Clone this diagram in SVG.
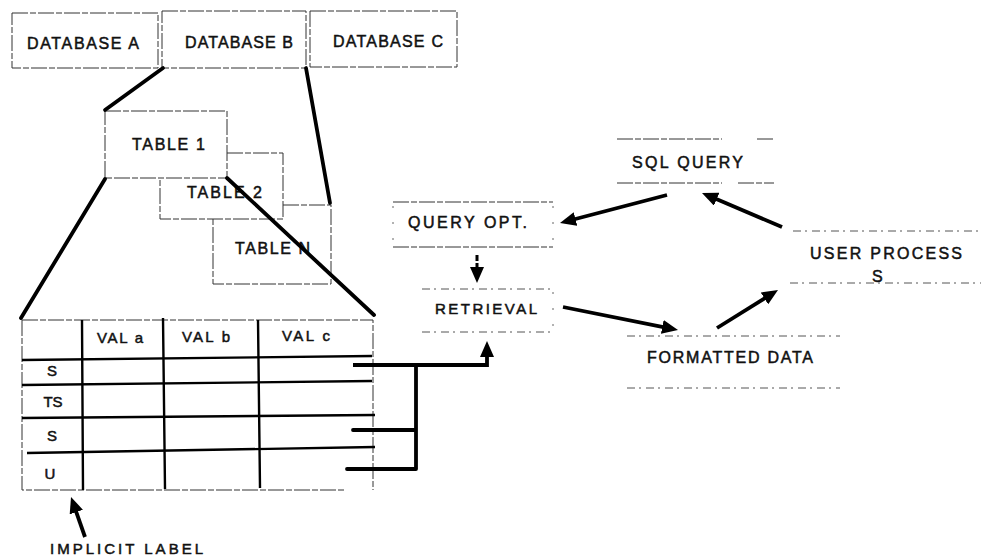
<svg xmlns="http://www.w3.org/2000/svg" width="981" height="557" viewBox="0 0 981 557">
<style>
text{font-family:"Liberation Sans",Arial,sans-serif;font-size:16px;fill:#111;stroke:#111;stroke-width:0.5}
.s15{font-size:15px}
.box{fill:none;stroke:#333;stroke-width:1;stroke-dasharray:16 2 6 2}
.faint{fill:none;stroke:#555;stroke-width:1;stroke-dasharray:8 4 2 5}
.side{fill:none;stroke:#666;stroke-width:1;stroke-dasharray:2 14}
.thick{fill:none;stroke:#000;stroke-width:3.8;stroke-linecap:round;stroke-linejoin:round}
.grid{fill:none;stroke:#000;stroke-width:2.4}
.arrow{fill:none;stroke:#000;stroke-width:3.8;marker-end:url(#ah)}
</style>
<defs>
<marker id="ah" markerUnits="userSpaceOnUse" viewBox="0 0 16 14" markerWidth="16" markerHeight="14" refX="10" refY="7" orient="auto">
<path d="M0,0 L16,7 L0,14 z" fill="#000"/>
</marker>
</defs>
<rect width="981" height="557" fill="#fff"/>

<g id="dbA"><rect class="box" x="12" y="13" width="146" height="55"/><text x="27" y="49" textLength="112" lengthAdjust="spacing">DATABASE A</text></g>
<g id="dbB"><rect class="box" x="162" y="11" width="144" height="57"/><text x="185" y="48" textLength="108" lengthAdjust="spacing">DATABASE B</text></g>
<g id="dbC"><rect class="box" x="310" y="11" width="147" height="56"/><text x="333" y="47" textLength="110" lengthAdjust="spacing">DATABASE C</text></g>

<g id="tableN"><path class="box" d="M283,205 H331 V284 H213 V219"/><text x="235" y="254" textLength="75" lengthAdjust="spacing">TABLE N</text></g>
<g id="table2"><path class="box" d="M227,153 H283 V219 H160 V178"/><text x="187" y="198" textLength="75" lengthAdjust="spacing">TABLE 2</text></g>
<g id="table1"><rect class="box" x="105" y="111" width="122" height="67"/><text x="132" y="150" textLength="73" lengthAdjust="spacing">TABLE 1</text></g>

<g id="dataTable">
<path class="box" d="M22,320 H373 V490 M22,320 V490 H345"/>
<path class="grid" d="M82,320 L83,490 M163,318 L165,489 M258,320 L260,488"/>
<path class="grid" d="M22,360 L372,356 M22,385 L372,381 M22,418 L375,415 M27,453 L375,447"/>
<text class="s15" x="97" y="343" textLength="46" lengthAdjust="spacing">VAL a</text>
<text class="s15" x="182" y="342" textLength="48" lengthAdjust="spacing">VAL b</text>
<text class="s15" x="282" y="341" textLength="48" lengthAdjust="spacing">VAL c</text>
<text class="s15" x="52" y="376" text-anchor="middle">S</text>
<text class="s15" x="53" y="407" text-anchor="middle">TS</text>
<text class="s15" x="52" y="441" text-anchor="middle">S</text>
<text class="s15" x="50" y="479" text-anchor="middle">U</text>
</g>

<g id="implicitLabel"><text class="s15" x="50" y="554" textLength="153" lengthAdjust="spacing">IMPLICIT LABEL</text></g>

<g id="sqlQuery"><path class="box" d="M617,139 H722 M757,139 H774 M617,183 H722 M738,183 H774"/><text x="632" y="168" textLength="111" lengthAdjust="spacing">SQL QUERY</text></g>
<g id="queryOpt"><path class="box" d="M393,202 H553 M393,247 H553"/><path class="side" d="M393,206 V247 M553,206 V247"/><text x="408" y="228" textLength="119" lengthAdjust="spacing">QUERY OPT.</text></g>
<g id="retrieval"><path class="faint" d="M422,289 H553 M422,332 H553"/><path class="side" d="M553,292 V332"/><text class="s15" x="435" y="314" textLength="102" lengthAdjust="spacing">RETRIEVAL</text></g>
<g id="formattedData"><path class="faint" d="M627,336 H840 M627,388 H840"/><text x="647" y="363" textLength="166" lengthAdjust="spacing">FORMATTED DATA</text></g>
<g id="userProcess"><path class="faint" d="M793,231 H981 M790,283 H981"/><text x="810" y="259" textLength="152" lengthAdjust="spacing">USER PROCESS</text><text x="872" y="282">S</text></g>

<g id="connectors">
<path class="thick" d="M163,68 L105,110"/>
<path class="thick" d="M306,68 L330,203"/>
<path class="thick" d="M105,179 L21,318"/>
<path class="thick" d="M227,178 L374,315"/>
<path class="thick" d="M416,365 V469 M353,430 H416 M347,469 H416"/>
<path class="arrow" d="M353,365 H487 V347"/>
<path class="arrow" d="M667,195 L565.8,221.5"/>
<path class="arrow" d="M782,227 L707.5,195.3"/>
<path class="arrow" d="M563,307 L672.1,328.8"/>
<path class="arrow" d="M717,328 L772.9,293.2"/>
<path class="arrow" style="stroke-width:3;stroke-dasharray:6 2" d="M477,255 V277"/>
<path class="arrow" d="M85,537 L73,502.7"/>
</g>
</svg>
